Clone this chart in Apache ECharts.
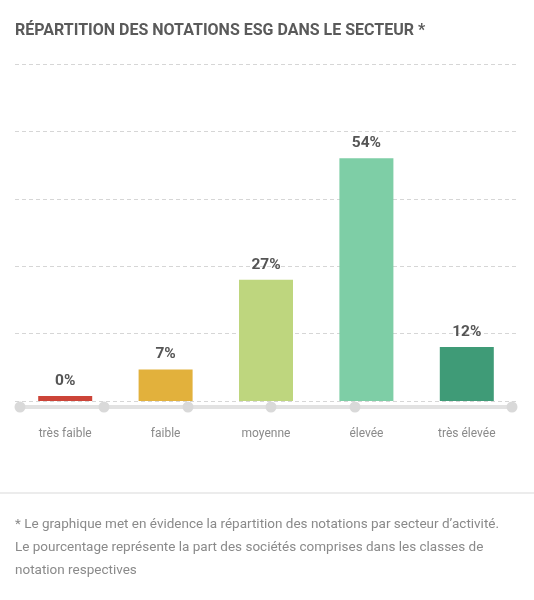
<!DOCTYPE html>
<html>
<head>
<meta charset="utf-8">
<script src="https://cdn.jsdelivr.net/npm/echarts@6/dist/echarts.min.js"></script>
<style>
html,body{margin:0;padding:0;background:#fff;}
#c{width:534px;height:600px;}
</style>
</head>
<body>
<div id="c"></div>
<script>
const categories = ['très faible', 'faible', 'moyenne', 'élevée', 'très élevée'];
const values = [0, 7, 27, 54, 12];
const barColors = ['#cc4438', '#e2b13c', '#bed67e', '#7ecea6', '#3f9b77'];
const yTicks = { min: 0, max: 75, interval: 15 };
const titleText = 'RÉPARTITION DES NOTATIONS ESG DANS LE SECTEUR *';
const footnoteLines = [
  '* Le graphique met en évidence la répartition des notations par secteur d\u2019activité.',
  'Le pourcentage représente la part des sociétés comprises dans les classes de',
  'notation respectives'
];
const dotXs = [20, 104, 188, 271, 355, 512];

const chart = echarts.init(document.getElementById('c'), null, { renderer: 'canvas' });
const font = 'Roboto, "Noto Sans", sans-serif';

const graphics = [
  { type: 'line', shape: { x1: 20, y1: 407, x2: 512, y2: 407 }, style: { stroke: '#e2e2e2', lineWidth: 4 }, z: 1 },
  ...dotXs.map(x => ({ type: 'circle', shape: { cx: x, cy: 407, r: 5.5 }, style: { fill: '#d9d9d9' }, z: 2 })),
  { type: 'line', shape: { x1: 0, y1: 493, x2: 534, y2: 493 }, style: { stroke: '#e6e6e6', lineWidth: 1.5 } },
  { type: 'text', left: 15, top: 513, style: { text: footnoteLines.join('\n'), fill: '#8a8a8a', font: '13.5px ' + font, lineHeight: 23 } }
];

chart.setOption({
  animation: false,
  title: {
    text: titleText, left: 10, top: 18,
    textStyle: { fontFamily: font, fontSize: 16, fontWeight: 'bold', color: '#5a5a5a' }
  },
  grid: { left: 15, right: 17, top: 64, bottom: 199, containLabel: false },
  xAxis: {
    type: 'category', data: categories,
    axisLine: { show: false }, axisTick: { show: false },
    axisLabel: { color: '#8a8a8a', fontFamily: font, fontSize: 12, margin: 27 }
  },
  yAxis: {
    type: 'value', min: yTicks.min, max: yTicks.max, interval: yTicks.interval,
    axisLabel: { show: false }, axisLine: { show: false }, axisTick: { show: false },
    splitLine: { lineStyle: { type: [4, 3], color: '#d6d6d6', width: 1 } }
  },
  series: [{
    type: 'bar', barWidth: 54, barMinHeight: 5,
    data: values.map((v, i) => ({ value: v, itemStyle: { color: barColors[i] } })),
    label: {
      show: true, position: 'top', distance: 7, formatter: '{c}%',
      color: '#555', fontFamily: font, fontSize: 15.5, fontWeight: 'bold'
    },
    z: 3
  }],
  graphic: graphics
});
</script>
</body>
</html>
